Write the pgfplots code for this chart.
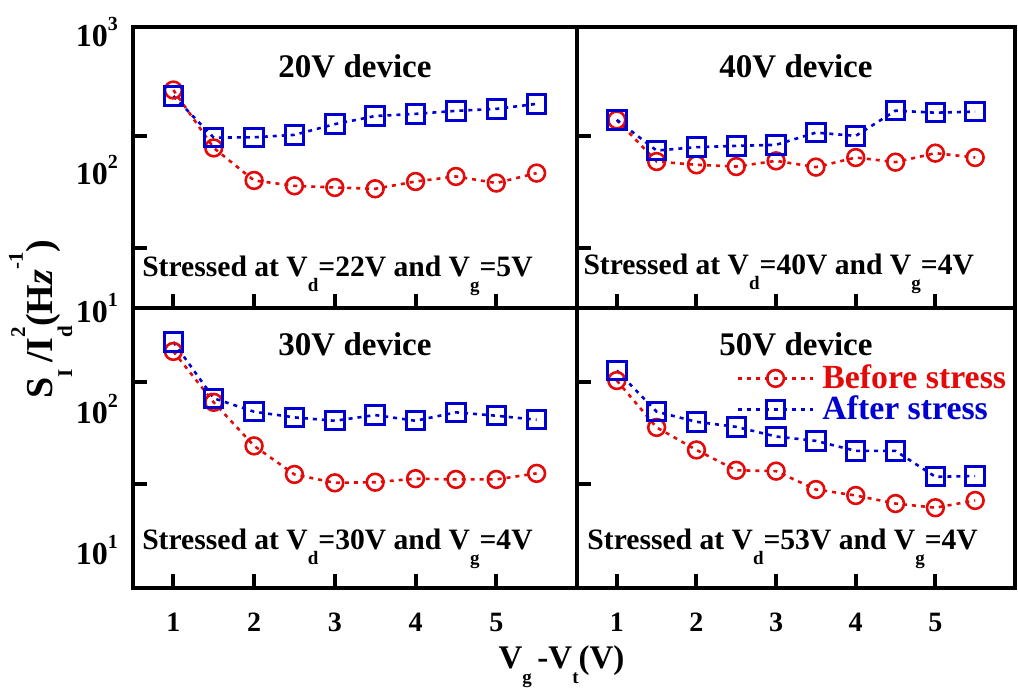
\documentclass[border=0pt]{standalone}
\usepackage{fontspec}
\setmainfont{Liberation Serif}
\usepackage{pgfplots}
\pgfplotsset{compat=1.18}
\definecolor{myred}{RGB}{228,10,10}
\definecolor{myblue}{RGB}{0,0,210}
\newcommand{\fs}[1]{\fontsize{#1}{#1}\selectfont}
\newcommand{\lsub}[1]{\raisebox{-7.5pt}{\fs{9.5}#1}}
\newcommand{\tsup}[1]{\raisebox{8pt}{\fs{10}#1}}
\pgfplotsset{
  mypanel/.style={
    scale only axis,
    axis line style={line width=2pt, black},
    xmin=0.5, xmax=6,
    xtick={1,2,3,4,5},
    minor xtick={1,2,3,4,5},
    major tick length=0pt,
    minor tick length=7pt,
    tick align=inside,
    xtick pos=bottom, ytick pos=left,
    minor tick style={line width=2pt, black},
    xticklabel style={font=\fs{14}\bfseries, yshift=-9pt},
    yticklabel style={font=\fs{16}\bfseries, xshift=-4pt},
    clip=false,
  },
  mytop/.style={mypanel, ymin=10, ymax=1080, ytick={10,100,1000}, minor ytick={176,27.4}, height=140.5pt, xticklabels={}},
  mybot/.style={mypanel, ymin=5.35, ymax=522, ytick={10,100}, minor ytick={156,29.1}, height=140pt},
  mybefore/.style={color=myred, line width=1.3pt, dash pattern=on 2pt off 2.5pt, mark=o, mark size=4.2pt, mark options={solid, line width=1.3pt}},
  myafter/.style={color=myblue, line width=1.3pt, dash pattern=on 2pt off 2.5pt, mark=square, mark size=4.6pt, mark options={solid, line width=1.5pt}},
}
\tikzset{
  mytitle/.style={anchor=base, font=\fs{16.5}\bfseries},
  mystress/.style={anchor=base west, inner sep=0pt, font=\fs{14.8}\bfseries},
}
\begin{document}
\begin{tikzpicture}
\useasboundingbox (0,0) rectangle (509pt,346pt);
% top-left
\begin{semilogyaxis}[mytop, at={(66.5pt,192pt)}, anchor=south west, width=222pt,
  /pgf/number format/assume math mode=true,
  yticklabels={\textbf{10}\tsup{1},\textbf{10}\tsup{2},\textbf{10}\tsup{3}}]
\addplot[mybefore] coordinates {(1,378) (1.5,144) (2,83.7) (2.5,76.6) (3,74.5) (3.5,72.9) (4,82.3) (4.5,89.5) (5,80.2) (5.5,94.7)};
\addplot[myafter] coordinates {(1,342) (1.5,171) (2,172) (2.5,179) (3,214) (3.5,245) (4,254) (4.5,267) (5,276) (5.5,300)};
\node[mytitle] at (rel axis cs:0.5,0.822) {20V device};
\node[mystress] at (rel axis cs:0.02,0.112) {Stressed at V\lsub{d}=22V and V\lsub{g}=5V};
\end{semilogyaxis}
% top-right
\begin{semilogyaxis}[mytop, at={(288.5pt,192pt)}, anchor=south west, width=219pt, yticklabels={}]
\addplot[mybefore] coordinates {(1,229.6) (1.5,114.8) (2,108.7) (2.5,105.6) (3,116.1) (3.5,104.6) (4,122.7) (4.5,113.6) (5,132) (5.5,122.7)};
\addplot[myafter] coordinates {(1,229.6) (1.5,137.8) (2,145.8) (2.5,149) (3,151.6) (3.5,185.9) (4,176) (4.5,268) (5,259) (5.5,263.6)};
\node[mytitle] at (rel axis cs:0.5,0.822) {40V device};
\node[mystress] at (rel axis cs:0.014,0.119) {Stressed at V\lsub{d}=40V and V\lsub{g}=4V};
\end{semilogyaxis}
% bottom-left
\begin{semilogyaxis}[mybot, at={(66.5pt,52pt)}, anchor=south west, width=222pt,
  /pgf/number format/assume math mode=true,
  yticklabels={\textbf{10}\tsup{1},\textbf{10}\tsup{2}}]
\addplot[mybefore] coordinates {(1,256.6) (1.5,111.6) (2,54.7) (2.5,34.3) (3,29.9) (3.5,30.2) (4,32.0) (4.5,31.6) (5,31.6) (5.5,34.9)};
\addplot[myafter] coordinates {(1,299.5) (1.5,119.2) (2,95.7) (2.5,87.2) (3,82.5) (3.5,90.6) (4,82.5) (4.5,94.7) (5,89.6) (5.5,83.9)};
\node[mytitle] at (rel axis cs:0.5,0.829) {30V device};
\node[mystress] at (rel axis cs:0.02,0.136) {Stressed at V\lsub{d}=30V and V\lsub{g}=4V};
\end{semilogyaxis}
% bottom-right
\begin{semilogyaxis}[mybot, at={(288.5pt,52pt)}, anchor=south west, width=219pt, yticklabels={},
  /pgf/number format/assume math mode=true,
  legend style={draw=none, fill=none, at={(0.985,0.805)}, anchor=north east, inner sep=0pt,
    font=\fs{16.9}\bfseries, row sep=0pt, column sep=3pt, nodes={inner sep=1pt}},
  legend cell align=left,
  legend image code/.code={\draw[mark repeat=2,mark phase=2,#1] plot coordinates {(0pt,0pt) (18.75pt,0pt) (37.5pt,0pt)};}]
\addplot[mybefore] coordinates {(1,159.3) (1.5,74.0) (2,51.2) (2.5,36.7) (3,36.2) (3.5,26.8) (4,24.3) (4.5,21.3) (5,19.9) (5.5,22.4)};
\addlegendentry{\textcolor{myred}{Before stress}}
\addplot[myafter] coordinates {(1,187.7) (1.5,95.7) (2,81.1) (2.5,74.7) (3,63.8) (3.5,59.4) (4,50.4) (4.5,50.4) (5,33.0) (5.5,33.4)};
\addlegendentry{\textcolor{myblue}{After stress}}
\node[mytitle] at (rel axis cs:0.5,0.829) {50V device};
\node[mystress] at (rel axis cs:0.023,0.136) {Stressed at V\lsub{d}=53V and V\lsub{g}=4V};
\end{semilogyaxis}
% axis labels
\node[rotate=90, anchor=base, font=\fs{19}\bfseries] at (26.5pt,186.5pt)
  {S\raisebox{-9.5pt}{\fs{10.5}I}\,/I\raisebox{-9.5pt}{\rlap{\fs{10.5}d}}\raisebox{14pt}{\fs{10.5}2}(H\textit{z}\raisebox{15pt}{\fs{10.5}-1})};
\node[anchor=base, font=\fs{16.5}\bfseries] at (280.75pt,12pt) {V\lsub{g}\,-V\lsub{t}(V)};
\end{tikzpicture}
\end{document}
